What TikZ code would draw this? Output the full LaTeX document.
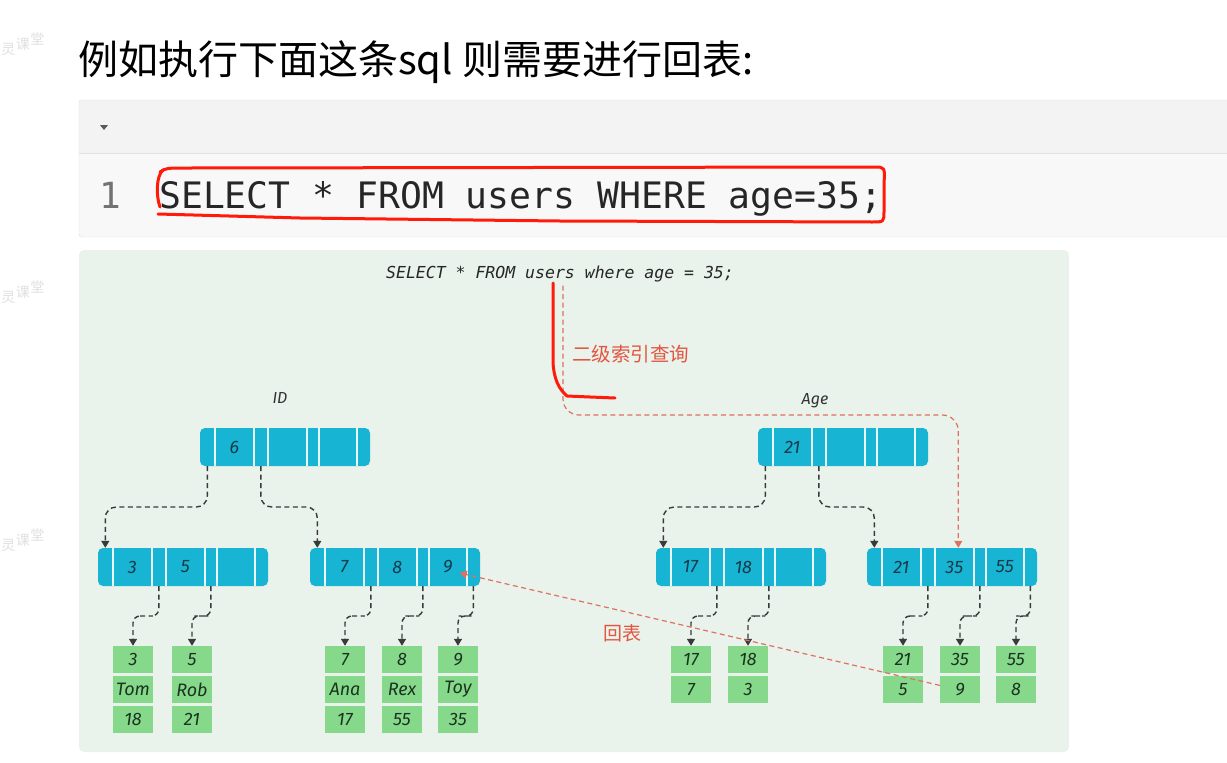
\documentclass[tikz,border=0pt]{standalone}
\usepackage{fontspec}
\usepackage{tikz}
\usetikzlibrary{positioning, calc, arrows.meta}
\setmainfont{Fira Sans}
\newfontfamily\cjkfont{Noto Sans CJK SC}
\newfontfamily\monofont{DejaVu Sans Mono}
\newfontfamily\treefont{Fira Sans}
\definecolor{panelbg}{HTML}{E9F3EC}
\definecolor{nodeblue}{HTML}{17B4D3}
\definecolor{leafgreen}{HTML}{86D98B}
\definecolor{keytext}{HTML}{173A48}
\definecolor{leaftext}{HTML}{1B3320}
\definecolor{linkgray}{HTML}{3A3A3A}
\definecolor{queryred}{HTML}{E0705F}
\definecolor{labelred}{HTML}{E3553F}
\definecolor{handred}{HTML}{FF1A0A}
\definecolor{codehead}{HTML}{F3F3F3}
\definecolor{codebody}{HTML}{F8F8F8}
\definecolor{codeline}{HTML}{E2E2E2}
\tikzset{
        inode/.style={fill=nodeblue, rounded corners=5pt, minimum width=170pt, minimum height=38pt, inner sep=0pt},
        key/.style={minimum width=39pt, minimum height=38pt, inner sep=0pt,
                    font=\treefont\itshape\fontsize{18}{20}\selectfont, text=keytext},
        divider/.style={draw=white!90!nodeblue, line width=1.8pt},
        leafcell/.style={fill=leafgreen, minimum width=40pt, minimum height=27pt, inner sep=0pt,
                    font=\treefont\itshape\fontsize{18}{20}\selectfont, text=leaftext},
        link/.style={draw=linkgray, line width=1.4pt, dash pattern=on 5pt off 3.5pt,
                    rounded corners=11pt, -{Triangle[width=8pt,length=7pt]}},
        leaflink/.style={link, rounded corners=7pt},
        query/.style={draw=queryred, line width=1.2pt, dash pattern=on 5pt off 3.5pt,
                    -{Triangle[width=8pt,length=7pt]}},
        hand/.style={draw=handred, line width=3pt, line cap=round, line join=round},
        treelabel/.style={font=\treefont\itshape\fontsize{16}{18}\selectfont, text=black!80},
        watermark/.style={text=black!12, inner sep=0pt, font=\cjkfont\fontsize{14}{14}\selectfont},
    }
% B+ tree inner node: name, centre, three keys
\newcommand\bnode[5]{%
  \node[inode] (#1) at (#2) {};
  \foreach \dx in {15,54,68,107,119,157}
    \draw[divider] ([xshift=\dx pt]#1.north west) -- ([xshift=\dx pt]#1.south west);
  \node[key] (#1-k1) at ([xshift=34.5pt]#1.west) {#3};
  \node[key] (#1-k2) at ([xshift=87.5pt]#1.west) {#4};
  \node[key] (#1-k3) at ([xshift=138pt]#1.west) {#5};
  \coordinate (#1-in) at ([xshift=7.5pt]#1.north west);
  \coordinate (#1-p0) at ([xshift=7.5pt]#1.south west);
  \coordinate (#1-p1) at ([xshift=61pt]#1.south west);
  \coordinate (#1-p2) at ([xshift=113pt]#1.south west);
  \coordinate (#1-p3) at ([xshift=163.5pt]#1.south west);
}
% leaf record: name, x, cells
\newcommand\leaf[3]{%
  \foreach \v [count=\i] in {#3} {
    \ifnum\i=1
      \node[leafcell] (#1-1) at (#2,659.5) {\v};
    \else
      \pgfmathtruncatemacro\j{\i-1}
      \node[leafcell, below=of #1-\j] (#1-\i) {\v};
    \fi
  }
}
% slanted faint watermark, one glyph at a time
\newcommand\wmark[3]{%
  \foreach \c [count=\i] in {灵,课,堂}
    \node[watermark] (#1-\i) at ({#2+14.5*\i},{#3-5.5*\i}) {\c};
}

\begin{document}
\begin{tikzpicture}[x=1pt, y=-1pt, node distance=2.5pt]
    \useasboundingbox (0,0) rectangle (1227,763);
    \fill[white] (0,0) rectangle (1227,763);

    % heading and code block
    \node[anchor=base west, inner sep=0pt, font=\cjkfont\fontsize{40}{44}\selectfont] (title) at (78,74)
        {例如执行下面这条sql 则需要进行回表:};
    \fill[codebody] (79,100) rectangle (1240,237);
    \fill[codehead] (79,100) rectangle (1240,153);
    \draw[codeline] (79,153) -- (1240,153);
    \draw[codeline, rounded corners=3pt] (1240,100) -- (79,100) -- (79,237) -- (1240,237);
    \fill[black!65] (100,125) -- (108,125) -- (104,130) -- cycle;
    \node[anchor=base, inner sep=0pt, font=\monofont\fontsize{36}{40}\selectfont, text=black!55] (lineno) at (110,208) {1};
    \node[anchor=base west, inner sep=0pt, font=\monofont\fontsize{36.4}{40}\selectfont, text=black!85] (code) at (159,208)
        {SELECT * FROM users WHERE age=35;};
    \draw[hand] (163,170) .. controls (156,176) and (156,196) .. (160,207);
    \draw[hand] (160,172) .. controls (166,168) .. (190,168) -- (874,167) .. controls (885,167) .. (884,184)
        -- (884,211) .. controls (884,222) .. (872,222) -- (560,221) -- (300,218) -- (158,214);

    % watermarks
    \wmark{wma}{-6}{55}
    \wmark{wmb}{-6}{303}
    \wmark{wmc}{-6}{551}

    % diagram panel
    \fill[panelbg, rounded corners=5pt] (79,250) rectangle (1069,752);
    \node[font=\monofont\itshape\fontsize{16.5}{20}\selectfont, text=black!85] (query) at (560,274)
        {SELECT * FROM users where age = 35;};
    \node[treelabel] (idlabel) at (280,398) {ID};
    \node[treelabel] (agelabel) at (815,401) {Age};

    % primary key tree
    \bnode{idroot}{285,447}{6}{}{}
    \bnode{idl}{183,567}{3}{5}{}
    \bnode{idr}{395,567}{7}{8}{9}
    \leaf{id3}{133}{3,Tom,18}
    \leaf{id5}{192}{5,Rob,21}
    \leaf{id7}{345}{7,Ana,17}
    \leaf{id8}{402}{8,Rex,55}
    \leaf{id9}{458}{9,Toy,35}

    % secondary index tree
    \bnode{ageroot}{843,447}{21}{}{}
    \bnode{agel}{741,567}{17}{18}{}
    \bnode{ager}{952,567}{21}{35}{55}
    \leaf{age17}{691}{17,7}
    \leaf{age18}{748}{18,3}
    \leaf{age21}{903}{21,5}
    \leaf{age35}{960}{35,9}
    \leaf{age55}{1016}{55,8}

    % links
    \draw[link] (idroot-p0) |- ($(idroot-p0)!0.5!(idl-in)$) -| (idl-in);
    \draw[link] (idroot-p1) |- ($(idroot-p1)!0.5!(idr-in)$) -| (idr-in);
    \draw[link] (ageroot-p0) |- ($(ageroot-p0)!0.5!(agel-in)$) -| (agel-in);
    \draw[link] (ageroot-p1) |- ($(ageroot-p1)!0.5!(ager-in)$) -| (ager-in);
    \draw[leaflink] (idl-p1) |- ($(idl-p1)!0.5!(id3-1.north)$) -| (id3-1.north);
    \draw[leaflink] (idl-p2) |- ($(idl-p2)!0.5!(id5-1.north)$) -| (id5-1.north);
    \draw[leaflink] (idr-p1) |- ($(idr-p1)!0.5!(id7-1.north)$) -| (id7-1.north);
    \draw[leaflink] (idr-p2) |- ($(idr-p2)!0.5!(id8-1.north)$) -| (id8-1.north);
    \draw[leaflink] (idr-p3) |- ($(idr-p3)!0.5!(id9-1.north)$) -| (id9-1.north);
    \draw[leaflink] (agel-p1) |- ($(agel-p1)!0.5!(age17-1.north)$) -| (age17-1.north);
    \draw[leaflink] (agel-p2) |- ($(agel-p2)!0.5!(age18-1.north)$) -| (age18-1.north);
    \draw[leaflink] (ager-p1) |- ($(ager-p1)!0.5!(age21-1.north)$) -| (age21-1.north);
    \draw[leaflink] (ager-p2) |- ($(ager-p2)!0.5!(age35-1.north)$) -| (age35-1.north);
    \draw[leaflink] (ager-p3) |- ($(ager-p3)!0.5!(age55-1.north)$) -| (age55-1.north);

    % index lookup and back to table
    \coordinate (qstart) at ([xshift=3pt]query.south);
    \coordinate (qturn) at ([xshift=4pt]ager-k2.north |- 0,415);
    \draw[query, rounded corners=16pt] (qstart) |- (qturn) -- ([xshift=4pt]ager-k2.north);
    \node[anchor=west, inner sep=0pt, font=\cjkfont\fontsize{19.5}{22}\selectfont, text=labelred] (seclabel) at (572,354) {二级索引查询};
    \draw[query] ([yshift=4pt]age35-2.west) -- ([xshift=12pt,yshift=-6pt]idr-k3.center);
    \node[font=\cjkfont\fontsize{19}{22}\selectfont, text=labelred] (backlabel) at (622,633) {回表};
    \draw[hand] (553,283) -- (553,362) .. controls (554,380) and (559,389) .. (567,396) -- (590,397) -- (615,398);
\end{tikzpicture}
\end{document}
